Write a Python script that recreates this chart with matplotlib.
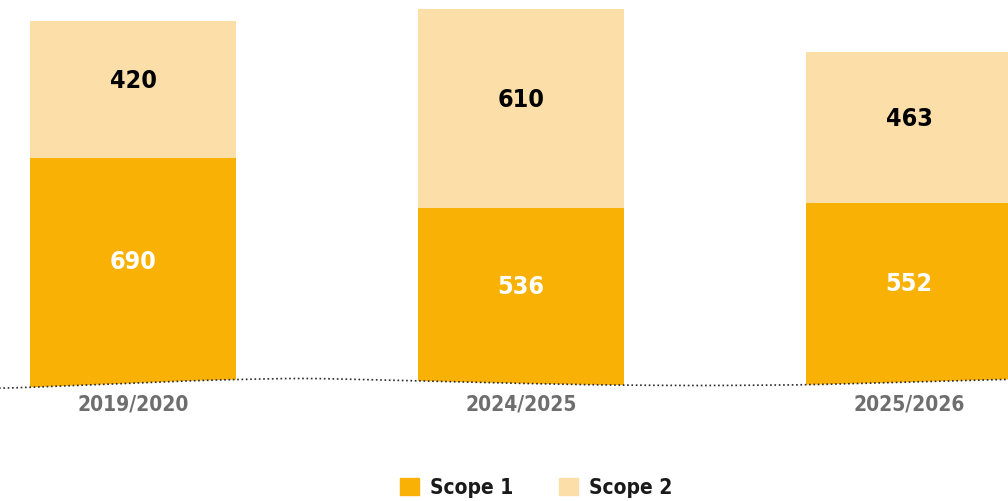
import numpy as np
import matplotlib
matplotlib.use("Agg")
import matplotlib.pyplot as plt
from matplotlib.patches import Patch, Polygon

# emissions per period (tonnes CO2e)
periods = ["2019/2020", "2024/2025", "2025/2026"]
scope1 = [690, 536, 552]
scope2 = [420, 610, 463]
series_names = ["Scope 1", "Scope 2"]

C1 = "#F8B104"
C2 = "#FCDEA9"
FONT = dict(family="DejaVu Sans", fontstretch="condensed", fontweight="bold")

# decorative wavy baseline (x in bar units, y in value units)
wave_x = [-0.35, -0.09, 0.17, 0.43, 0.69, 0.95, 1.20, 1.46, 1.72, 1.98, 2.27]
wave_y = [-17, -5, 8, 15, 8, 0, -6, -8, -6, 2, 12]

fig = plt.figure(figsize=(10.08, 5.02), dpi=100)
ax = fig.add_axes([0, 0, 1, 1])
ax.set_xlim(-0.343, 2.255)
ax.set_ylim(-362, 1178)
ax.axis("off")

x = np.arange(len(periods))
w = 0.531
b1 = ax.bar(x, np.array(scope1) + 40, w, bottom=-40, color=C1, linewidth=0)
b2 = ax.bar(x, scope2, w, bottom=scope1, color=C2, linewidth=0)

# clip the bars so they sit on the wave
xs = np.linspace(wave_x[0], wave_x[-1], 200)
ys = np.interp(xs, wave_x, wave_y)
ys = np.convolve(np.pad(ys, 6, mode="edge"), np.ones(13) / 13, mode="valid")
clip_pts = np.column_stack([np.r_[xs, xs[-1], xs[0]], np.r_[ys, 2000, 2000]])
clip = Polygon(clip_pts, closed=True, transform=ax.transData)
for r in list(b1) + list(b2):
    r.set_clip_path(clip)
ax.plot(xs, ys, color="#2A2A2A", lw=1.2, ls=(0, (1, 1.6)), zorder=3)

for i in range(len(periods)):
    ax.annotate(str(scope1[i]), (x[i], scope1[i] / 2), xytext=(0, 7),
                textcoords="offset points", ha="center", va="center",
                color="white", fontsize=18, **FONT)
    ax.annotate(str(scope2[i]), (x[i], scope1[i] + scope2[i] / 2), xytext=(0, 7),
                textcoords="offset points", ha="center", va="center",
                color="black", fontsize=18, **FONT)
    ax.text(x[i], -62, periods[i], ha="center", va="center",
            color="#6E6E6E", fontsize=15, **FONT)

handles = [Patch(color=C1, label=series_names[0]), Patch(color=C2, label=series_names[1])]
fig.legend(handles=handles, loc="center", bbox_to_anchor=(0.532, 0.027), ncol=2,
           frameon=False, handlelength=0.9, handleheight=0.9, handletextpad=0.55,
           columnspacing=2.2,
           prop=dict(family="DejaVu Sans", stretch="condensed", weight="bold", size=15))
for t in fig.legends[0].get_texts():
    t.set_color("#1A1A1A")

fig.savefig("out.png", dpi=100)
